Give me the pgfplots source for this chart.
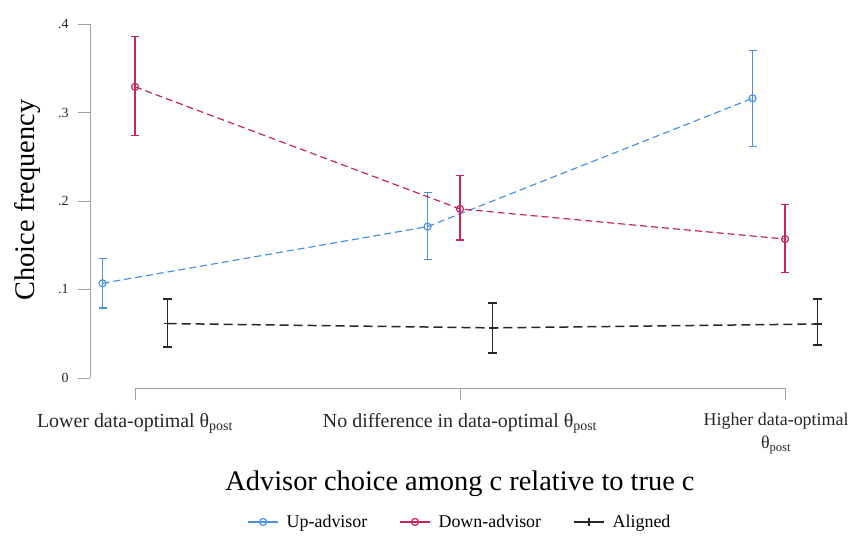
\documentclass[border=0pt]{standalone}
\usepackage{pgfplots}
\pgfplotsset{compat=1.18}
\usepackage{pgfplotstable}
\usepackage{fontspec}
\setmainfont{Liberation Serif}
\definecolor{upblue}{RGB}{75,145,228}
\definecolor{downred}{RGB}{200,38,88}
\definecolor{axgray}{RGB}{160,160,160}

\pgfplotstableread{
x    y      ep     em
0.9  0.107  0.028  0.028
1.9  0.171  0.039  0.037
2.9  0.316  0.054  0.054
}\upadv
\pgfplotstableread{
x    y      ep     em
1.0  0.329  0.057  0.055
2.0  0.191  0.038  0.035
3.0  0.157  0.039  0.038
}\downadv
\pgfplotstableread{
x    y       ep      em
1.1  0.0615  0.0275  0.0265
2.1  0.0566  0.0284  0.0286
3.1  0.061   0.028   0.024
}\aligned

\begin{document}
\begin{tikzpicture}
\begin{axis}[
    scale only axis,
    width=763bp, height=364bp,
    at={(90bp,148bp)}, anchor=south west,
    xmin=0.8615, xmax=3.209,
    ymin=-0.01132, ymax=0.4,
    axis x line*=bottom, axis y line*=left,
    axis line style={draw=none},
    tick align=outside,
    major tick length=12bp,
    tick style={axgray, line width=0.8pt},
    xtick={1,2},
    xticklabels={Lower data-optimal θ\textsubscript{post},
                 No difference in data-optimal θ\textsubscript{post}},
    xticklabel style={font=\fontsize{20}{23}\selectfont, align=center, text=black!85, yshift=-10bp},
    extra x ticks={3},
    extra x tick labels={{Higher data-optimal\\θ\textsubscript{post}}},
    extra x tick style={xticklabel style={font=\fontsize{18}{23}\selectfont, xshift=-9bp}},
    ytick={0,0.1,0.2,0.3,0.4},
    yticklabels={0,.1,.2,.3,.4},
    yticklabel style={font=\fontsize{14}{16}\selectfont, text=black!85, xshift=-6bp},
    xlabel={Advisor choice among c relative to true c},
    xlabel style={font=\fontsize{28.5}{31}\selectfont, at={(axis description cs:0.4849,-0.2637)}, anchor=center},
    ylabel={Choice frequency},
    ylabel style={font=\fontsize{28.5}{31}\selectfont, at={(axis description cs:-0.0813,0.5165)}, anchor=center},
    legend style={at={(axis description cs:0.4849,-0.368)}, anchor=center, draw=none,
        legend columns=3, font=\fontsize{18}{20}\selectfont,
        /tikz/every odd column/.append style={column sep=6bp},
        /tikz/every even column/.append style={column sep=30bp}},
    legend image code/.code={
        \draw[mark repeat=2, mark phase=2, solid] plot coordinates {(0bp,0bp) (15bp,0bp) (30bp,0bp)};},
    clip=false,
    error bars/y dir=both, error bars/y explicit,
]
\draw[axgray, line width=0.8pt] (axis cs:0.8615,0) -- (axis cs:0.8615,0.4);
\draw[axgray, line width=0.8pt] (axis cs:1,-0.01132) -- (axis cs:3,-0.01132);

\addplot[upblue, line width=1.2pt, dash pattern=on 7bp off 4bp, mark=o, mark size=3.5bp,
    mark options={solid},
    error bars/error bar style={upblue, solid, line width=1.2pt},
    error bars/error mark options={rotate=90, mark size=4bp, upblue, solid, line width=1.2pt}]
    table[x=x, y=y, y error plus=ep, y error minus=em]{\upadv};
\addlegendentry{Up-advisor}

\addplot[downred, line width=1.2pt, dash pattern=on 7bp off 4bp, mark=o, mark size=3.5bp,
    mark options={solid},
    error bars/error bar style={downred, solid, line width=1.2pt},
    error bars/error mark options={rotate=90, mark size=4bp, downred, solid, line width=1.2pt}]
    table[x=x, y=y, y error plus=ep, y error minus=em]{\downadv};
\addlegendentry{Down-advisor}

\addplot[black!85, line width=1.5pt, dash pattern=on 9bp off 5bp, mark=+, mark size=4bp,
    mark options={solid},
    error bars/error bar style={black!85, solid, line width=1.5pt},
    error bars/error mark options={rotate=90, mark size=4.5bp, black!85, solid, line width=1.5pt}]
    table[x=x, y=y, y error plus=ep, y error minus=em]{\aligned};
\addlegendentry{Aligned}
\end{axis}
\pgfresetboundingbox
\path (0,0) rectangle (853bp,536bp);
\end{tikzpicture}
\end{document}
